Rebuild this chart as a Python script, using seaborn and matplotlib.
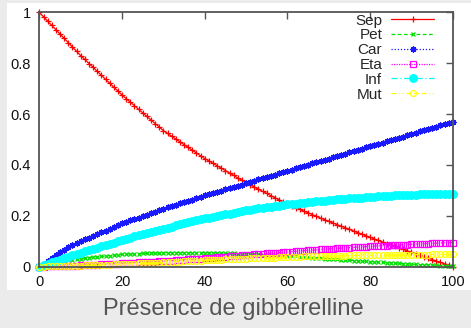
import matplotlib
matplotlib.use("Agg")
import matplotlib.pyplot as plt
import seaborn as sns
import pandas as pd
from matplotlib.patches import Rectangle

# dose of gibberellin, one point per unit
dose = list(range(101))

sep = [1.000, 0.983, 0.966, 0.949, 0.932, 0.915, 0.898, 0.881, 0.864, 0.847,
       0.830, 0.815, 0.799, 0.784, 0.768, 0.753, 0.737, 0.722, 0.706, 0.691,
       0.675, 0.661, 0.647, 0.633, 0.619, 0.605, 0.591, 0.577, 0.563, 0.549,
       0.535, 0.524, 0.513, 0.502, 0.491, 0.480, 0.469, 0.458, 0.447, 0.436,
       0.425, 0.416, 0.406, 0.397, 0.387, 0.378, 0.368, 0.359, 0.349, 0.340,
       0.330, 0.322, 0.313, 0.305, 0.296, 0.288, 0.279, 0.271, 0.262, 0.254,
       0.245, 0.238, 0.232, 0.225, 0.218, 0.212, 0.205, 0.198, 0.191, 0.185,
       0.178, 0.172, 0.165, 0.159, 0.153, 0.147, 0.140, 0.134, 0.128, 0.121,
       0.115, 0.109, 0.103, 0.097, 0.091, 0.086, 0.080, 0.074, 0.068, 0.062,
       0.056, 0.050, 0.045, 0.039, 0.034, 0.028, 0.022, 0.017, 0.011, 0.006, 0.000]

pet = [0.000, 0.005, 0.009, 0.013, 0.017, 0.020, 0.023, 0.026, 0.028, 0.030,
       0.032, 0.034, 0.036, 0.038, 0.039, 0.040, 0.042, 0.043, 0.045, 0.046,
       0.048, 0.049, 0.050, 0.050, 0.051, 0.052, 0.052, 0.053, 0.054, 0.054,
       0.055, 0.055, 0.055, 0.055, 0.055, 0.055, 0.055, 0.055, 0.055, 0.055,
       0.055, 0.055, 0.054, 0.054, 0.053, 0.053, 0.052, 0.052, 0.051, 0.051,
       0.050, 0.049, 0.048, 0.048, 0.047, 0.046, 0.045, 0.044, 0.044, 0.043,
       0.042, 0.041, 0.040, 0.039, 0.038, 0.037, 0.035, 0.034, 0.033, 0.032,
       0.031, 0.030, 0.029, 0.028, 0.027, 0.026, 0.024, 0.023, 0.022, 0.021,
       0.020, 0.019, 0.018, 0.017, 0.016, 0.015, 0.014, 0.013, 0.012, 0.011,
       0.010, 0.009, 0.008, 0.008, 0.007, 0.006, 0.005, 0.004, 0.004, 0.003, 0.002]

car = [0.000, 0.012, 0.024, 0.035, 0.046, 0.057, 0.067, 0.076, 0.084, 0.092,
       0.100, 0.107, 0.114, 0.121, 0.128, 0.135, 0.142, 0.149, 0.156, 0.163,
       0.170, 0.176, 0.182, 0.187, 0.193, 0.199, 0.205, 0.211, 0.216, 0.222,
       0.228, 0.233, 0.238, 0.244, 0.249, 0.254, 0.259, 0.264, 0.270, 0.275,
       0.280, 0.285, 0.290, 0.294, 0.299, 0.304, 0.309, 0.314, 0.318, 0.323,
       0.328, 0.333, 0.338, 0.343, 0.348, 0.353, 0.357, 0.362, 0.367, 0.372,
       0.377, 0.382, 0.387, 0.391, 0.396, 0.401, 0.406, 0.411, 0.415, 0.420,
       0.425, 0.430, 0.435, 0.440, 0.445, 0.450, 0.454, 0.459, 0.464, 0.469,
       0.474, 0.479, 0.484, 0.488, 0.493, 0.498, 0.503, 0.508, 0.512, 0.517,
       0.522, 0.527, 0.532, 0.536, 0.541, 0.546, 0.551, 0.556, 0.560, 0.565, 0.570]

eta = [0.000, 0.000, 0.001, 0.001, 0.002, 0.002, 0.003, 0.003, 0.004, 0.004,
       0.005, 0.006, 0.007, 0.007, 0.008, 0.009, 0.010, 0.011, 0.011, 0.012,
       0.013, 0.014, 0.015, 0.016, 0.017, 0.018, 0.018, 0.019, 0.020, 0.021,
       0.022, 0.023, 0.024, 0.025, 0.026, 0.028, 0.029, 0.030, 0.031, 0.032,
       0.033, 0.034, 0.035, 0.037, 0.038, 0.039, 0.040, 0.041, 0.043, 0.044,
       0.045, 0.046, 0.048, 0.049, 0.050, 0.052, 0.053, 0.054, 0.055, 0.057,
       0.058, 0.059, 0.060, 0.062, 0.063, 0.064, 0.065, 0.066, 0.068, 0.069,
       0.070, 0.071, 0.072, 0.073, 0.074, 0.075, 0.076, 0.077, 0.078, 0.079,
       0.080, 0.081, 0.082, 0.082, 0.083, 0.084, 0.085, 0.086, 0.086, 0.087,
       0.088, 0.089, 0.089, 0.090, 0.091, 0.092, 0.092, 0.093, 0.094, 0.094, 0.095]

inf = [0.000, 0.006, 0.011, 0.017, 0.022, 0.028, 0.033, 0.039, 0.044, 0.050,
       0.055, 0.060, 0.065, 0.070, 0.075, 0.080, 0.085, 0.090, 0.095, 0.100,
       0.105, 0.110, 0.114, 0.119, 0.123, 0.128, 0.132, 0.137, 0.141, 0.146,
       0.150, 0.154, 0.158, 0.162, 0.166, 0.170, 0.174, 0.178, 0.182, 0.186,
       0.190, 0.193, 0.196, 0.200, 0.203, 0.206, 0.209, 0.212, 0.216, 0.219,
       0.222, 0.224, 0.227, 0.229, 0.231, 0.234, 0.236, 0.238, 0.240, 0.243,
       0.245, 0.247, 0.248, 0.250, 0.252, 0.254, 0.255, 0.257, 0.259, 0.260,
       0.262, 0.263, 0.265, 0.266, 0.267, 0.269, 0.270, 0.271, 0.272, 0.274,
       0.275, 0.276, 0.277, 0.277, 0.278, 0.279, 0.280, 0.281, 0.281, 0.282,
       0.283, 0.283, 0.284, 0.284, 0.284, 0.285, 0.285, 0.285, 0.286, 0.286, 0.286]

mut = [0.000, 0.000, 0.001, 0.001, 0.001, 0.002, 0.002, 0.003, 0.003, 0.004,
       0.004, 0.005, 0.005, 0.006, 0.006, 0.007, 0.008, 0.008, 0.009, 0.009,
       0.010, 0.011, 0.011, 0.012, 0.013, 0.014, 0.014, 0.015, 0.016, 0.016,
       0.017, 0.018, 0.019, 0.019, 0.020, 0.021, 0.022, 0.023, 0.023, 0.024,
       0.025, 0.026, 0.026, 0.027, 0.028, 0.029, 0.029, 0.030, 0.031, 0.031,
       0.032, 0.033, 0.033, 0.034, 0.034, 0.035, 0.036, 0.036, 0.037, 0.037,
       0.038, 0.038, 0.039, 0.039, 0.040, 0.040, 0.040, 0.041, 0.041, 0.042,
       0.042, 0.042, 0.043, 0.043, 0.043, 0.044, 0.044, 0.044, 0.045, 0.045,
       0.045, 0.045, 0.045, 0.046, 0.046, 0.046, 0.046, 0.046, 0.047, 0.047,
       0.047, 0.047, 0.047, 0.047, 0.047, 0.048, 0.048, 0.048, 0.048, 0.048, 0.048]

names = ["Sep", "Pet", "Car", "Eta", "Inf", "Mut"]
series = [sep, pet, car, eta, inf, mut]

# gnuplot-like styles: colour, marker, line style
styles = {
    "Sep": dict(color="#ff0000", marker="+", ls="-", ms=4, mfc="#ff0000"),
    "Pet": dict(color="#00e000", marker="x", ls=(0, (3, 2)), ms=3.5, mfc="#00e000"),
    "Car": dict(color="#1a1aff", marker=(8, 2, 0), ls=(0, (1, 1.5)), ms=4.3, mfc="#1a1aff"),
    "Eta": dict(color="#ff00ff", marker="s", ls=(0, (1, 1)), ms=4.2, mfc="none"),
    "Inf": dict(color="#00ffff", marker="o", ls=(0, (5, 2, 1, 2)), ms=5.5, mfc="#00ffff"),
    "Mut": dict(color="#ffff00", marker="o", ls=(0, (4, 2, 1, 2, 1, 2)), ms=4.2, mfc="none"),
}

df = pd.DataFrame({"dose": dose})
for n, s in zip(names, series):
    df[n] = s

sns.set_style("white")
plt.rcParams["font.family"] = ["Liberation Sans", "DejaVu Sans"]

fig = plt.figure(figsize=(4.71, 3.28), dpi=100, facecolor="#ebebeb")
# white panel behind the plot, grey page around it
fig.patches.append(Rectangle((0.015, 0.116), 0.985, 0.875, transform=fig.transFigure,
                             facecolor="white", edgecolor="none", zorder=-10))
ax = fig.add_axes([0.0837, 0.187, 0.8776, 0.775])
ax.set_zorder(2)
ax.set_facecolor("white")

for n in names:
    st = styles[n]
    sns.lineplot(x="dose", y=n, data=df, ax=ax, label=n, color=st["color"],
                 marker=st["marker"], linestyle=st["ls"], linewidth=0.9,
                 markersize=st["ms"], markerfacecolor=st["mfc"],
                 markeredgecolor=st["color"], markeredgewidth=0.9, clip_on=False)

ax.set_xlim(0, 100)
ax.set_ylim(0, 1)
ax.set_xticks([0, 20, 40, 60, 80, 100])
ax.set_yticks([0, 0.2, 0.4, 0.6, 0.8, 1.0])
ax.set_yticklabels(["0", "0.2", "0.4", "0.6", "0.8", "1"])
ax.tick_params(direction="in", length=5, width=1, color="#555555",
               top=True, right=True, labelsize=10.5, labelcolor="#111111", pad=6)
for sp in ax.spines.values():
    sp.set_color("#555555")
    sp.set_linewidth(1.3)
    sp.set_zorder(5)

ax.set_ylabel("")
ax.set_xlabel("Présence de gibbérelline", fontsize=17, color="#555555")
ax.xaxis.set_label_coords(0.47, -0.125)

leg = ax.legend(loc="upper right", bbox_to_anchor=(0.955, 0.995), frameon=False,
                markerfirst=False, fontsize=11, handlelength=2.8, handletextpad=0.6,
                labelspacing=0.05, borderaxespad=0, borderpad=0)

fig.savefig("out.png", dpi=100, facecolor=fig.get_facecolor())
